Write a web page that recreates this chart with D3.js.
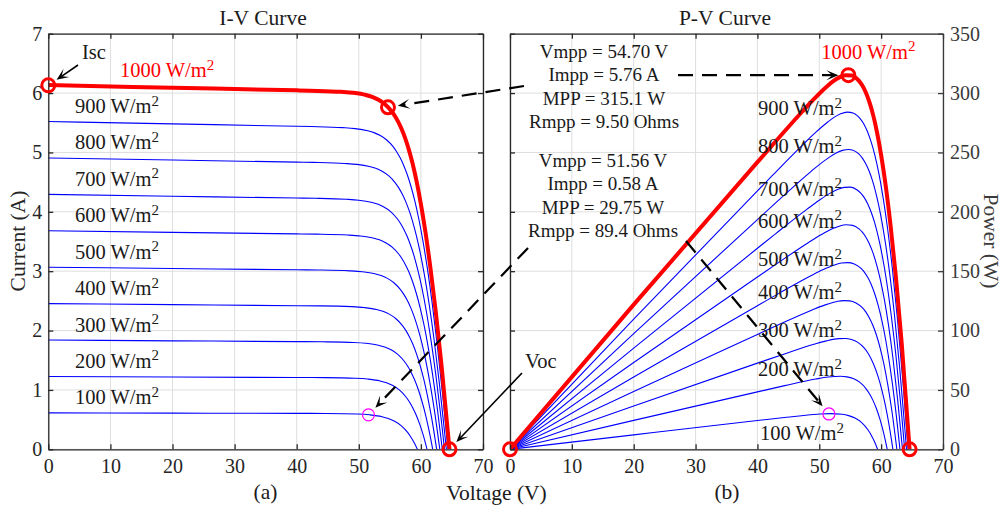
<!DOCTYPE html>
<html><head><meta charset="utf-8">
<script src="https://cdn.jsdelivr.net/npm/d3@7"></script>
<style>
html,body{margin:0;padding:0;background:#fff;}
svg{display:block;font-family:"Liberation Serif","Times New Roman",serif;}
</style></head><body>
<svg id="chart" width="1004" height="506"></svg>
<script>
// Irradiance levels (W/m^2)
const irradiance = [100, 200, 300, 400, 500, 600, 700, 800, 900, 1000];

// I-V characteristics: [voltage (V), current (A)] for each irradiance level
const iv100 = [[0,0.613],[20,0.609],[40,0.605],[44.71,0.603],[49.72,0.594],[51.72,0.581],[53.74,0.549],[54.75,0.518],[55.77,0.472],[56.81,0.399],[57.86,0.284],[58.40,0.204],[58.95,0.105],[59.43,0]];
const iv200 = [[0,1.227],[20,1.218],[40,1.209],[44.42,1.207],[49.43,1.197],[51.43,1.183],[53.45,1.151],[54.46,1.120],[55.48,1.073],[56.52,1.000],[57.57,0.885],[58.11,0.805],[58.66,0.706],[59.22,0.583],[59.79,0.428],[60.39,0.234],[60.99,0]];
const iv300 = [[0,1.840],[20,1.827],[40,1.814],[44.13,1.811],[49.14,1.800],[51.14,1.786],[53.16,1.753],[54.17,1.722],[55.20,1.675],[56.23,1.602],[57.29,1.487],[57.83,1.406],[58.37,1.307],[58.93,1.184],[59.51,1.028],[60.10,0.835],[60.72,0.594],[61.36,0.293],[61.90,0]];
const iv400 = [[0,2.454],[20,2.436],[40,2.418],[43.84,2.416],[48.85,2.403],[50.85,2.388],[52.87,2.355],[53.88,2.324],[54.91,2.277],[55.94,2.203],[57.00,2.088],[57.54,2.007],[58.08,1.908],[58.64,1.785],[59.22,1.629],[59.81,1.436],[60.43,1.195],[61.07,0.893],[61.75,0.516],[62.54,0]];
const iv500 = [[0,3.067],[20,3.045],[40,3.023],[43.55,3.020],[48.56,3.006],[50.56,2.991],[52.58,2.957],[53.60,2.926],[54.62,2.879],[55.65,2.805],[56.71,2.689],[57.25,2.609],[57.80,2.509],[58.36,2.386],[58.93,2.230],[59.52,2.037],[60.14,1.795],[60.78,1.494],[61.46,1.116],[62.19,0.646],[63.04,0]];
const iv600 = [[0,3.680],[20,3.654],[40,3.628],[43.26,3.624],[48.27,3.609],[50.28,3.593],[52.29,3.559],[53.31,3.528],[54.33,3.480],[55.37,3.406],[56.42,3.290],[56.96,3.210],[57.51,3.110],[58.07,2.986],[58.64,2.831],[59.23,2.637],[59.85,2.396],[60.50,2.094],[61.18,1.716],[61.90,1.246],[62.68,0.658],[63.45,0]];
const iv700 = [[0,4.294],[20,4.263],[40,4.232],[42.97,4.228],[47.98,4.212],[49.99,4.196],[52.00,4.161],[53.02,4.130],[54.04,4.082],[55.08,4.008],[56.13,3.891],[56.67,3.811],[57.22,3.711],[57.78,3.587],[58.35,3.432],[58.95,3.238],[59.56,2.996],[60.21,2.695],[60.89,2.317],[61.61,1.846],[62.40,1.258],[63.25,0.523],[63.80,0]];
const iv800 = [[0,4.907],[20,4.872],[40,4.837],[42.68,4.832],[47.69,4.815],[49.70,4.799],[51.71,4.763],[52.73,4.732],[53.75,4.684],[54.79,4.609],[55.84,4.493],[56.38,4.412],[56.93,4.312],[57.49,4.188],[58.07,4.032],[58.66,3.839],[59.27,3.597],[59.92,3.295],[60.60,2.917],[61.33,2.446],[62.11,1.858],[62.96,1.123],[63.90,0.205],[64.10,0]];
const iv900 = [[0,5.521],[20,5.481],[40,5.441],[42.39,5.436],[47.40,5.418],[49.41,5.401],[51.42,5.365],[52.44,5.334],[53.46,5.285],[54.50,5.210],[55.56,5.094],[56.09,5.013],[56.64,4.913],[57.20,4.789],[57.78,4.633],[58.37,4.439],[58.99,4.197],[59.63,3.896],[60.31,3.518],[61.04,3.047],[61.82,2.458],[62.67,1.723],[63.61,0.805],[64.36,0]];
const iv1000 = [[0,6.134],[20,6.090],[40,6.046],[42.10,6.040],[47.11,6.021],[49.12,6.004],[51.14,5.968],[52.15,5.936],[53.17,5.887],[54.21,5.812],[55.27,5.695],[55.81,5.614],[56.35,5.514],[56.91,5.390],[57.49,5.234],[58.08,5.040],[58.70,4.798],[59.34,4.496],[60.02,4.118],[60.75,3.647],[61.53,3.058],[62.39,2.323],[63.33,1.405],[64.60,0]];

// Key operating points: [Vmpp (V), Impp (A), Pmpp (W), Rmpp (Ohms)]
const mpp1000 = [54.70, 5.76, 315.1, 9.50];
const mpp100 = [51.56, 0.58, 29.75, 89.4];
const isc1000 = 6.13;
const voc1000 = 64.6;

// Tick values
const voltageTicks = [0, 10, 20, 30, 40, 50, 60, 70];
const currentTicks = [0, 1, 2, 3, 4, 5, 6, 7];
const powerTicks = [0, 50, 100, 150, 200, 250, 300, 350];

// Irradiance label anchors on the P-V panel: [voltage, power]
const pvLabelVolt = [40.4, 40.1, 40.1, 40.1, 40.1, 40.1, 40.1, 40.1, 40.1];
const pvLabelPower = [7.8, 61.7, 94.5, 126.5, 154.3, 186.7, 213.6, 249.3, 281.3];

const ivCurves = [iv100, iv200, iv300, iv400, iv500, iv600, iv700, iv800, iv900, iv1000];

const svg = d3.select('#chart');
const axisColor = '#262626';
const gridColor = '#dedede';
const fontSize = 20.5;
const tickSize = 20;
const titleSize = 21.5;

const xL = d3.scaleLinear().domain([0, 70]).range([48.3, 483]);
const yL = d3.scaleLinear().domain([0, 7]).range([449.3, 33.7]);
const xR = d3.scaleLinear().domain([0, 70]).range([510, 943]);
const yR = d3.scaleLinear().domain([0, 350]).range([449.3, 33.7]);

const defs = svg.append('defs');
function addClip(id, x, y) {
  defs.append('clipPath').attr('id', id).append('rect')
    .attr('x', x.range()[0]).attr('y', y.range()[1])
    .attr('width', x.range()[1] - x.range()[0])
    .attr('height', y.range()[0] - y.range()[1]);
}
addClip('clipL', xL, yL);
addClip('clipR', xR, yR);

function grid(x, y, xt, yt) {
  const g = svg.append('g').attr('stroke', gridColor).attr('stroke-width', 1);
  g.selectAll('.gx').data(xt).join('line')
    .attr('x1', d => x(d)).attr('x2', d => x(d))
    .attr('y1', y.range()[0]).attr('y2', y.range()[1]);
  g.selectAll('.gy').data(yt).join('line')
    .attr('y1', d => y(d)).attr('y2', d => y(d))
    .attr('x1', x.range()[0]).attr('x2', x.range()[1]);
}
grid(xL, yL, voltageTicks, currentTicks);
grid(xR, yR, voltageTicks, powerTicks);

function styleAxis(g, color) {
  g.attr('font-family', null).attr('font-size', tickSize);
  g.select('.domain').attr('stroke', color).attr('stroke-width', 1.3);
  g.selectAll('.tick line').attr('stroke', color).attr('stroke-width', 1.3);
  g.selectAll('.tick text').attr('fill', color);
}
function axes(x, y, yt, labelLeft, labelRight, rightColor) {
  const x0 = x.range()[0], x1 = x.range()[1], y0 = y.range()[0], y1 = y.range()[1];
  svg.append('g').attr('transform', `translate(0,${y0})`)
    .call(d3.axisBottom(x).tickValues(voltageTicks).tickSizeInner(-5).tickSizeOuter(0).tickPadding(10).tickFormat(d3.format('d')))
    .call(g => styleAxis(g, axisColor));
  svg.append('g').attr('transform', `translate(0,${y1})`)
    .call(d3.axisTop(x).tickValues(voltageTicks).tickSizeInner(-5).tickSizeOuter(0).tickFormat(''))
    .call(g => styleAxis(g, axisColor));
  svg.append('g').attr('transform', `translate(${x0},0)`)
    .call(d3.axisLeft(y).tickValues(yt).tickSizeInner(-5).tickSizeOuter(0).tickPadding(6).tickFormat(labelLeft ? d3.format('d') : ''))
    .call(g => styleAxis(g, axisColor));
  svg.append('g').attr('transform', `translate(${x1},0)`)
    .call(d3.axisRight(y).tickValues(yt).tickSizeInner(-5).tickSizeOuter(0).tickPadding(7).tickFormat(labelRight ? d3.format('d') : ''))
    .call(g => styleAxis(g, rightColor));
}

// Curves
const lineIV = d3.line().x(d => xL(d[0])).y(d => yL(d[1])).curve(d3.curveMonotoneX);
const linePV = d3.line().x(d => xR(d[0])).y(d => yR(d[0] * d[1])).curve(d3.curveMonotoneX);

const gL = svg.append('g').attr('clip-path', 'url(#clipL)').attr('fill', 'none');
const gR = svg.append('g').attr('clip-path', 'url(#clipR)').attr('fill', 'none');
ivCurves.forEach((c, k) => {
  const top = irradiance[k] === 1000;
  gL.append('path').attr('d', lineIV(c))
    .attr('stroke', top ? '#ff0000' : '#0000ff').attr('stroke-width', top ? 4 : 1.1);
  gR.append('path').attr('d', linePV(c))
    .attr('stroke', top ? '#ff0000' : '#0000ff').attr('stroke-width', top ? 4 : 1.1);
});

axes(xL, yL, currentTicks, true, false, axisColor);
axes(xR, yR, powerTicks, false, true, '#3a3a3a');

// Markers
function ring(x, y, color, r, w) {
  svg.append('circle').attr('cx', x).attr('cy', y).attr('r', r)
    .attr('fill', 'none').attr('stroke', color).attr('stroke-width', w);
}
ring(xL(0), yL(isc1000), '#ff0000', 6.5, 3);
ring(xL(mpp1000[0]), yL(mpp1000[1]), '#ff0000', 6.5, 3);
ring(xL(voc1000), yL(0), '#ff0000', 6.5, 3);
ring(xL(mpp100[0]), yL(mpp100[1]), '#ff00ff', 6, 1.2);
ring(xR(0), yR(0), '#ff0000', 6.5, 3);
ring(xR(mpp1000[0]), yR(mpp1000[2]), '#ff0000', 6.5, 3);
ring(xR(voc1000), yR(0), '#ff0000', 6.5, 3);
ring(xR(mpp100[0]), yR(mpp100[2]), '#ff00ff', 6, 1.2);

// Text helpers
function text(x, y, str, opts = {}) {
  return svg.append('text').attr('x', x).attr('y', y)
    .attr('font-size', opts.size || fontSize)
    .attr('fill', opts.color || '#1a1a1a')
    .attr('text-anchor', opts.anchor || 'start')
    .text(str);
}
function wm2(x, y, G, color) {
  const t = svg.append('text').attr('x', x).attr('y', y)
    .attr('font-size', fontSize).attr('fill', color || '#1a1a1a');
  t.append('tspan').text(G + ' W/m');
  t.append('tspan').attr('dy', -7.5).attr('font-size', 15).text('2');
}

// Irradiance labels
irradiance.forEach((G, k) => {
  if (G === 1000) return;
  wm2(75, yL(ivCurves[k][0][1]) - 8.5, G);
  wm2(xR(pvLabelVolt[k]), yR(pvLabelPower[k]), G);
});
wm2(120, yL(ivCurves[9][0][1]) - 8, 1000, '#ff0000');
wm2(xR(50.3), yR(329), 1000, '#ff0000');

// Titles and axis labels
text(263, 25, 'I-V Curve', {size: titleSize, anchor: 'middle'});
text(725, 25, 'P-V Curve', {size: titleSize, anchor: 'middle'});
text(265.5, 499, '(a)', {size: titleSize, anchor: 'middle'});
text(727, 499, '(b)', {size: titleSize, anchor: 'middle'});
text(496.5, 500, 'Voltage (V)', {size: titleSize, anchor: 'middle'});
svg.append('text').attr('transform', 'translate(25,241) rotate(-90)')
  .attr('font-size', titleSize).attr('fill', '#262626').attr('text-anchor', 'middle').text('Current (A)');
svg.append('text').attr('transform', 'translate(984,241) rotate(90)')
  .attr('font-size', titleSize).attr('fill', '#3a3a3a').attr('text-anchor', 'middle').text('Power (W)');

// Operating point readouts
function readout(cx, y0, m) {
  const lines = [
    `Vmpp = ${m[0].toPrecision(4)} V`,
    `Impp = ${m[1].toFixed(2)} A`,
    `MPP = ${m[2].toPrecision(4)} W`,
    `Rmpp = ${m[3].toPrecision(3)} Ohms`
  ];
  lines.forEach((s, k) => text(cx, y0 + k * 23.3, s, {size: 19, anchor: 'middle'}));
}
readout(604, 58, mpp1000);
readout(603, 167, mpp100);

text(82, 59, 'Isc');
text(525, 368, 'Voc');

// Arrows
function arrow(x1, y1, cx, cy, dashed) {
  const dx = cx - x1, dy = cy - y1, len = Math.hypot(dx, dy);
  const ux = dx / len, uy = dy / len, px = -uy, py = ux;
  const tx = cx - ux * 10, ty = cy - uy * 10;
  const L = 12, W = 5, N = 6;
  svg.append('line').attr('x1', x1).attr('y1', y1)
    .attr('x2', tx - ux * N).attr('y2', ty - uy * N)
    .attr('stroke', '#000').attr('stroke-width', dashed ? 2.2 : 1.6)
    .attr('stroke-dasharray', dashed ? '15,9' : null);
  svg.append('path')
    .attr('d', `M${tx},${ty}L${tx - ux * L + px * W},${ty - uy * L + py * W}L${tx - ux * N},${ty - uy * N}L${tx - ux * L - px * W},${ty - uy * L - py * W}Z`)
    .attr('fill', '#000');
}
arrow(78, 65, xL(0), yL(isc1000), false);
arrow(524, 86, xL(mpp1000[0]), yL(mpp1000[1]), true);
arrow(678, yR(mpp1000[2]), xR(mpp1000[0]), yR(mpp1000[2]), true);
arrow(528, 248, xL(mpp100[0]), yL(mpp100[1]), true);
arrow(686, 241, xR(mpp100[0]), yR(mpp100[2]), true);
arrow(522, 373, xL(voc1000), yL(0), false);
</script>
</body></html>
